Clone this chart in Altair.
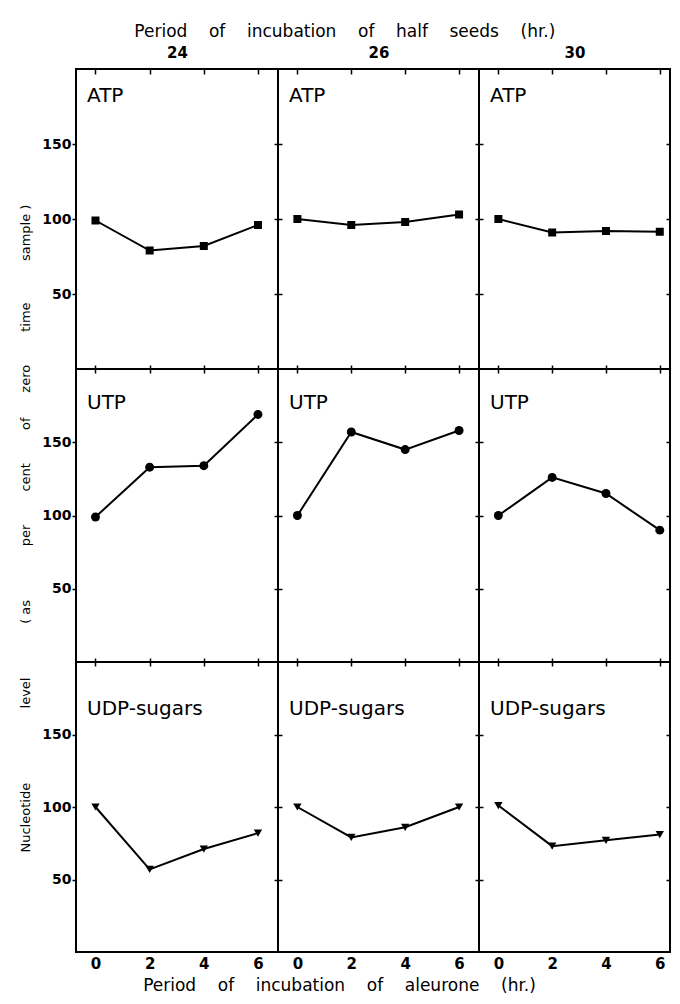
import altair as alt
import pandas as pd

# ---------------- data ----------------
seeds = ["24", "26", "30"]                 # period of incubation of half seeds (hr.)
nucleotides = ["ATP", "UTP", "UDP-sugars"]
hours = [0, 2, 4, 6]                       # period of incubation of aleurone (hr.)

atp_24 = [99, 79, 82, 96]
atp_26 = [100, 96, 98, 103]
atp_30 = [100, 91, 92, 91.5]
utp_24 = [99, 133, 134, 169]
utp_26 = [100, 157, 145, 158]
utp_30 = [100, 126, 115, 90]
udp_24 = [100, 57, 71, 82]
udp_26 = [100, 79, 86, 100]
udp_30 = [101, 73, 77, 81]

x_ticks = [0, 2, 4, 6]
y_ticks = [50, 100, 150]

series = {
    ("24", "ATP"): atp_24, ("26", "ATP"): atp_26, ("30", "ATP"): atp_30,
    ("24", "UTP"): utp_24, ("26", "UTP"): utp_26, ("30", "UTP"): utp_30,
    ("24", "UDP-sugars"): udp_24, ("26", "UDP-sugars"): udp_26, ("30", "UDP-sugars"): udp_30,
}

rows = []
for (s, n), vals in series.items():
    for h, v in zip(hours, vals):
        rows.append({"seed": s, "nucleotide": n, "t": h, "value": v})
df = pd.DataFrame(rows)

# ---------------- style ----------------
FONT = "DejaVu Sans"
NB = "\u00a0"
top_title = (NB * 4).join(["Period", "of", "incubation", "of", "half", "seeds", "(hr.)"])
bottom_title = (NB * 4).join(["Period", "of", "incubation", "of", "aleurone", "(hr.)"])
y_words = ["Nucleotide", "level", "(" + NB + "as", "per", "cent", "of", "zero", "time", "sample )"]
y_gaps = [18, 13, 13, 8, 8, 6, 8, 10]
y_title = y_words[0]
for g, w in zip(y_gaps, y_words[1:]):
    y_title += NB * g + w

widths = [202, 201, 191]
x_domains = [[-0.72, 6.74], [-0.72, 6.74], [-0.72, 6.38]]   # last panel is cut at the right edge
heights = [300, 293, 290]
label_y = [33, 40, 53]
shapes = {"ATP": "square", "UTP": "circle", "UDP-sugars": "triangle-down"}
sizes = {"ATP": 64, "UTP": 80, "UDP-sugars": 70}

ys = alt.Scale(domain=[0, 200], nice=False)

TICKW = 1.5


def panel(r, c):
    n = nucleotides[r]
    s = seeds[c]
    xs = alt.Scale(domain=x_domains[c], nice=False, zero=False)
    base = alt.Chart(df).transform_filter(
        (alt.datum.seed == s) & (alt.datum.nucleotide == n)
    )

    # bottom x axis
    if r < 2:
        xa = alt.Axis(values=x_ticks, labels=False, domain=False, tickSize=8,
                      offset=-4, tickWidth=TICKW, title=None, grid=False)
    else:
        kw = dict(values=x_ticks, domain=False, ticks=False, grid=False,
                  labelFont=FONT, labelFontSize=15, labelFontWeight="bold",
                  labelPadding=4, labelColor="black")
        if c == 1:
            kw.update(title=bottom_title, titleFont=FONT, titleFontSize=17,
                      titleFontWeight="normal", titleColor="black",
                      titleX=61, titleY=38, titleAlign="center",
                      titleBaseline="alphabetic")
        else:
            kw.update(title=None)
        xa = alt.Axis(**kw)

    # left y axis
    if c == 0:
        kw = dict(values=y_ticks, domain=False, tickSize=4, tickWidth=TICKW,
                  grid=False, labelFont=FONT, labelFontSize=14,
                  labelFontWeight="bold", labelPadding=1, labelColor="black")
        if r == 1:
            kw.update(title=y_title, titleFont=FONT, titleFontSize=13,
                      titleFontWeight="normal", titleColor="black",
                      titleX=-51, titleY=483, titleAlign="left",
                      titleBaseline="middle", titleAngle=270)
        else:
            kw.update(title=None)
        ya = alt.Axis(**kw)
    else:
        ya = alt.Axis(values=y_ticks, labels=False, domain=False, tickSize=8,
                      offset=-4, tickWidth=TICKW, title=None, grid=False)

    line = base.mark_line(color="black", strokeWidth=2).encode(
        x=alt.X("t:Q", scale=xs, axis=xa),
        y=alt.Y("value:Q", scale=ys, axis=ya),
    )

    # second layer: markers, carrying top / right axes on the outer edges
    if r == 0:
        x2 = alt.X("t:Q", scale=xs, axis=alt.Axis(
            orient="top", values=x_ticks, labels=False, domain=False,
            tickSize=5, offset=-5, tickWidth=TICKW, grid=False,
            title=s, titleFont=FONT, titleFontSize=15,
            titleFontWeight="bold", titleColor="black", titlePadding=8))
    else:
        x2 = alt.X("t:Q", scale=xs, axis=None)
    if c == 2:
        y2 = alt.Y("value:Q", scale=ys, axis=alt.Axis(
            orient="right", values=y_ticks, labels=False, domain=False,
            tickSize=4, offset=-4, tickWidth=TICKW, grid=False, title=None))
    else:
        y2 = alt.Y("value:Q", scale=ys, axis=None)

    pts = base.mark_point(filled=True, shape=shapes[n], size=sizes[n],
                          color="black", opacity=1).encode(x=x2, y=y2)

    label = alt.Chart(pd.DataFrame({"label": [n]})).mark_text(
        align="left", baseline="alphabetic", font=FONT, fontSize=20,
        color="black",
    ).encode(text="label:N", x=alt.value(11), y=alt.value(label_y[r]))

    return alt.layer(line, pts, label).resolve_axis(
        x="independent", y="independent"
    ).properties(width=widths[c], height=heights[r])


panels = [panel(r, c) for r in range(3) for c in range(3)]

chart = alt.concat(
    *panels, columns=3, spacing=0, bounds="flush",
    title=alt.TitleParams(top_title, font=FONT, fontSize=17, fontWeight="normal",
                          color="black", anchor="middle", offset=3),
).properties(
    padding={"left": 9, "top": 15, "right": 0, "bottom": 0}
).configure_view(
    stroke="black", strokeWidth=2
).configure_axis(
    tickColor="black", labelColor="black", titleColor="black"
)

chart.save("out.html", embed_options={"renderer": "svg", "actions": False})
